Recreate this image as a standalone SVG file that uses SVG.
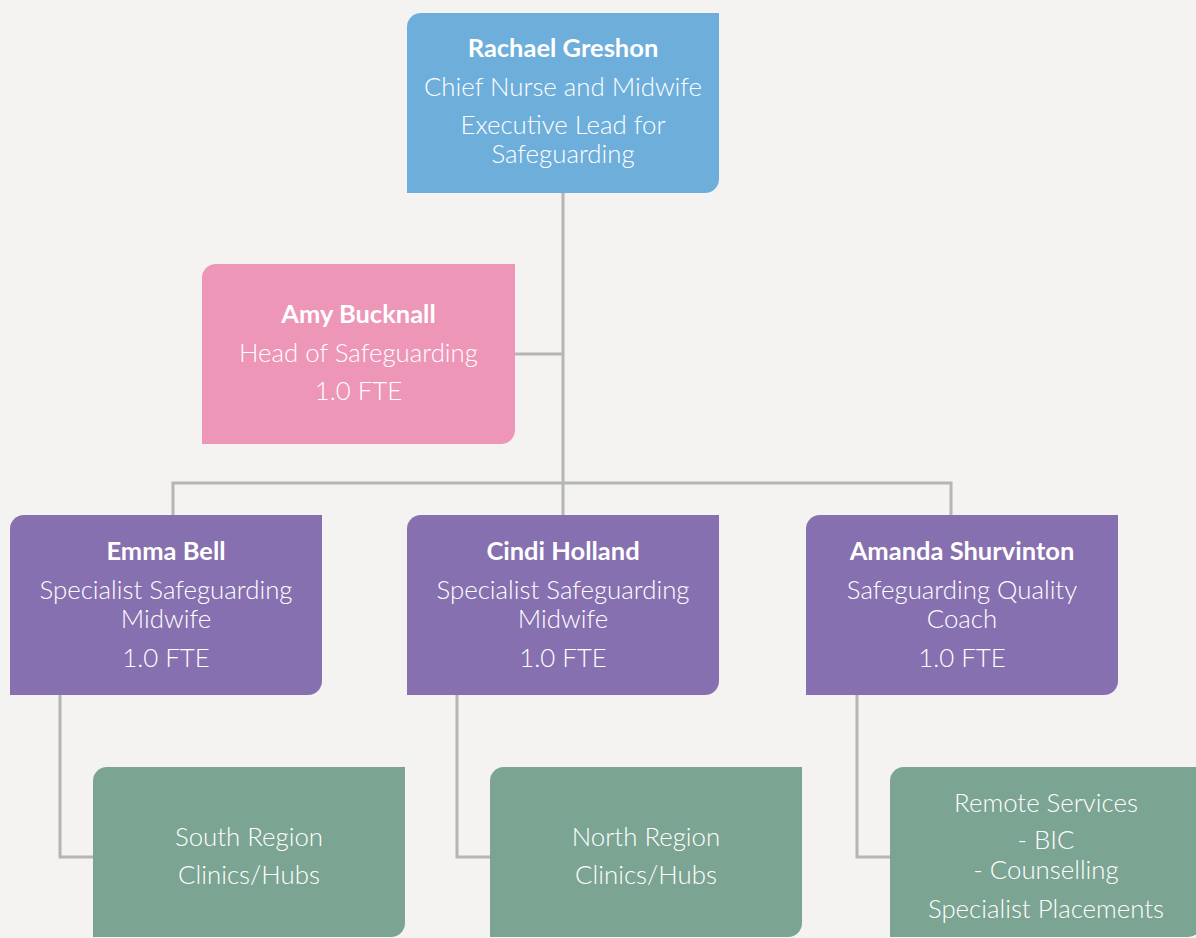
<svg xmlns="http://www.w3.org/2000/svg" width="1196" height="938" viewBox="0 0 1196 938">
<style>
.bg{fill:#f4f3f1}
.blue{fill:#6eaedb}
.pink{fill:#ed96b7}
.purple{fill:#8770b0}
.green{fill:#7ba492}
text{font-family:Lato,"Open Sans","Liberation Sans",sans-serif;fill:#ffffff;text-anchor:middle;font-size:25.8px;font-weight:300}
text.b{font-weight:700;font-size:25.5px}
.conn{fill:none;stroke:#b5b5b5;stroke-width:3}
</style>
<rect class="bg" x="0" y="0" width="1196" height="938"/>
<g id="connectors" class="conn">
<path d="M563 193 V483"/>
<path d="M515 354 H563"/>
<path d="M173 515 V483 H951 V515"/>
<path d="M563 483 V515"/>
<path d="M60 695 V857 H93"/>
<path d="M457 695 V857 H490"/>
<path d="M857 695 V857 H890"/>
</g>
<g id="rachael">
<path class="blue" d="M421 13 H719 V179 A14 14 0 0 1 705 193 H407 V27 A14 14 0 0 1 421 13 Z"/>
<text class="b" x="563" y="57">Rachael Greshon</text>
<text x="563" y="96">Chief Nurse and Midwife</text>
<text x="563" y="134">Executive Lead for</text>
<text x="563" y="163">Safeguarding</text>
</g>
<g id="amy">
<path class="pink" d="M216 264 H515 V430 A14 14 0 0 1 501 444 H202 V278 A14 14 0 0 1 216 264 Z"/>
<text class="b" x="358.5" y="323">Amy Bucknall</text>
<text x="358.5" y="362">Head of Safeguarding</text>
<text x="358.5" y="400">1.0 FTE</text>
</g>
<g id="emma">
<path class="purple" d="M24 515 H322 V681 A14 14 0 0 1 308 695 H10 V529 A14 14 0 0 1 24 515 Z"/>
<text class="b" x="166" y="560">Emma Bell</text>
<text x="166" y="599">Specialist Safeguarding</text>
<text x="166" y="628">Midwife</text>
<text x="166" y="667">1.0 FTE</text>
</g>
<g id="cindi">
<path class="purple" d="M421 515 H719 V681 A14 14 0 0 1 705 695 H407 V529 A14 14 0 0 1 421 515 Z"/>
<text class="b" x="563" y="560">Cindi Holland</text>
<text x="563" y="599">Specialist Safeguarding</text>
<text x="563" y="628">Midwife</text>
<text x="563" y="667">1.0 FTE</text>
</g>
<g id="amanda">
<path class="purple" d="M820 515 H1118 V681 A14 14 0 0 1 1104 695 H806 V529 A14 14 0 0 1 820 515 Z"/>
<text class="b" x="962" y="560">Amanda Shurvinton</text>
<text x="962" y="599">Safeguarding Quality</text>
<text x="962" y="628">Coach</text>
<text x="962" y="667">1.0 FTE</text>
</g>
<g id="south">
<path class="green" d="M107 767 H405 V923 A14 14 0 0 1 391 937 H93 V781 A14 14 0 0 1 107 767 Z"/>
<text x="249" y="846">South Region</text>
<text x="249" y="884">Clinics/Hubs</text>
</g>
<g id="north">
<path class="green" d="M504 767 H802 V923 A14 14 0 0 1 788 937 H490 V781 A14 14 0 0 1 504 767 Z"/>
<text x="646" y="846">North Region</text>
<text x="646" y="884">Clinics/Hubs</text>
</g>
<g id="remote">
<path class="green" d="M904 767 H1202 V923 A14 14 0 0 1 1188 937 H890 V781 A14 14 0 0 1 904 767 Z"/>
<text x="1046" y="812">Remote Services</text>
<text x="1046" y="849">- BIC</text>
<text x="1046" y="879">- Counselling</text>
<text x="1046" y="918">Specialist Placements</text>
</g>
</svg>
